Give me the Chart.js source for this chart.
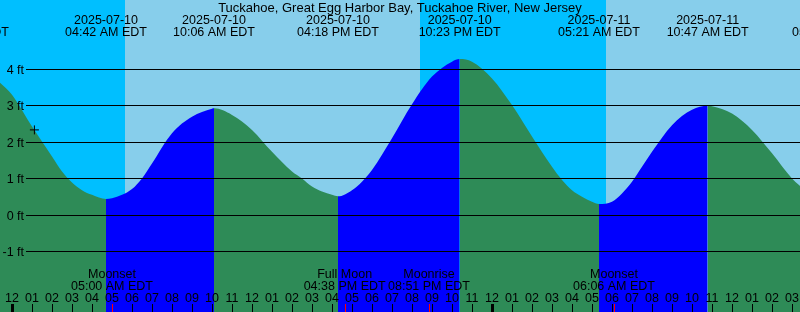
<!DOCTYPE html>
<html>
<head>
<meta charset="utf-8">
<title>Tuckahoe tides</title>
<script src="https://cdn.jsdelivr.net/npm/chart.js@4.4.1/dist/chart.umd.min.js"></script>
<style>
  html, body { margin: 0; padding: 0; background: #fff; overflow: hidden; }
  #wrap { width: 800px; height: 312px; position: relative; }
</style>
</head>
<body>
<div id="wrap"><canvas id="tide"></canvas></div>
<script>
const stationName = 'Tuckahoe, Great Egg Harbor Bay, Tuckahoe River, New Jersey';

// hours counted from 2025-07-10 00:00 EDT, heights in feet
const tideHours = [-0.65, 0, 1, 2, 2.5, 3, 3.5, 4, 4.7, 5, 5.5, 6, 6.5, 7, 8, 9, 10, 10.1, 11, 12, 13, 14, 14.5,
  15, 15.5, 16, 16.3, 17, 17.5, 18, 19, 20, 21, 22, 22.383, 23, 24, 25, 26, 27, 27.5, 28, 28.5, 29, 29.35,
  30, 30.5, 31, 31.5, 32, 33, 34, 34.783, 35, 36, 37, 38, 39, 39.35, 39.6];
const tideFeet = [3.66, 3.30, 2.43, 1.61, 1.20, 0.90, 0.69, 0.56, 0.45, 0.47, 0.56, 0.72, 1.01, 1.42, 2.25, 2.70, 2.92, 2.93, 2.75, 2.34, 1.74, 1.20, 1.01,
  0.79, 0.65, 0.56, 0.52, 0.69, 0.92, 1.24, 2.11, 3.04, 3.80, 4.21, 4.28, 4.21, 3.75, 3.02, 2.16, 1.33, 0.97, 0.69, 0.51, 0.37, 0.31,
  0.37, 0.60, 0.92, 1.33, 1.74, 2.47, 2.89, 3.0, 2.99, 2.79, 2.34, 1.70, 1.01, 0.83, 0.70];

const extremeHours = [-2.2, 4.7, 10.1, 16.3, 22.383, 29.35, 34.783, 41.05];
const extremeDates = ['2025-07-09', '2025-07-10', '2025-07-10', '2025-07-10', '2025-07-10', '2025-07-11', '2025-07-11', '2025-07-11'];
const extremeTimes = ['09:48 PM EDT', '04:42 AM EDT', '10:06 AM EDT', '04:18 PM EDT', '10:23 PM EDT', '05:21 AM EDT', '10:47 AM EDT', '05:03 PM EDT'];

const moonHours = [5.0, 16.633, 20.85, 30.1];
const moonNames = ['Moonset', 'Full Moon', 'Moonrise', 'Moonset'];
const moonTimes = ['05:00 AM EDT', '04:38 PM EDT', '08:51 PM EDT', '06:06 AM EDT'];

const dayStart = [5.65, 29.7];
const dayEnd = [20.4, 44];

const footTicks = [-1, 0, 1, 2, 3, 4];
const hourLabels = ['12', '01', '02', '03', '04', '05', '06', '07', '08', '09', '10', '11',
  '12', '01', '02', '03', '04', '05', '06', '07', '08', '09', '10', '11',
  '12', '01', '02', '03', '04', '05', '06', '07', '08', '09', '10', '11',
  '12', '01', '02', '03'];

const markHours = [1.12];
const markFeet = [2.34];

const FONT = '12.5px "Liberation Sans", Arial, sans-serif';
const TITLE_FONT = '13px "Liberation Sans", Arial, sans-serif';
const NIGHT = '#00BFFF';
const DAY = '#87CEEB';
const EBB = '#2E8B57';
const FLOOD = '#0000FF';

const tideDecor = {
  id: 'tideDecor',
  beforeDatasetsDraw(chart) {
    const { ctx, chartArea: a, scales: { x } } = chart;
    ctx.save();
    ctx.fillStyle = NIGHT;
    ctx.fillRect(a.left, a.top, a.width, a.height);
    ctx.fillStyle = DAY;
    dayStart.forEach((s, i) => {
      const x0 = Math.max(Math.round(x.getPixelForValue(s)), a.left);
      const x1 = Math.min(Math.round(x.getPixelForValue(dayEnd[i])), a.right);
      ctx.fillRect(x0, a.top, x1 - x0, a.height);
    });
    ctx.restore();
  },
  afterDatasetsDraw(chart) {
    const { ctx, chartArea: a, scales: { x, y } } = chart;
    ctx.save();
    ctx.fillStyle = '#000';
    ctx.strokeStyle = '#000';
    ctx.lineWidth = 1;
    ctx.textBaseline = 'alphabetic';

    // horizontal foot lines + labels
    ctx.font = FONT;
    footTicks.forEach(v => {
      const py = Math.floor(y.getPixelForValue(v)) + 0.5;
      ctx.beginPath();
      ctx.moveTo(26, py);
      ctx.lineTo(a.right, py);
      ctx.stroke();
      ctx.textAlign = 'right';
      ctx.fillText(v + ' ft', 24, py + 4.5);
    });

    ctx.textAlign = 'center';
    ctx.font = TITLE_FONT;
    ctx.fillText(stationName, 400, 12);

    ctx.font = FONT;
    extremeHours.forEach((h, i) => {
      const px = x.getPixelForValue(h);
      ctx.fillText(extremeDates[i], px, 24);
      ctx.fillText(extremeTimes[i], px, 36);
    });

    moonHours.forEach((h, i) => {
      const px = x.getPixelForValue(h);
      ctx.fillText(moonNames[i], px, 278);
      ctx.fillText(moonTimes[i], px, 290);
    });

    // hour ticks along the bottom
    hourLabels.forEach((lab, h) => {
      const px = Math.round(x.getPixelForValue(h));
      ctx.fillText(lab, px, 302);
      if (h % 24 === 0) {
        ctx.fillRect(px - 1, 304, 3, 8);
      } else {
        ctx.fillRect(px, 304, 1, 8);
      }
    });

    ctx.fillStyle = '#FF0000';
    moonHours.forEach(h => {
      const px = Math.round(x.getPixelForValue(h));
      ctx.fillRect(px, 304, 1, 8);
    });
    ctx.restore();
  }
};

document.addEventListener('DOMContentLoaded', () => {
  const canvas = document.getElementById('tide');
  canvas.width = 800;
  canvas.height = 312;

  new Chart(canvas.getContext('2d'), {
    type: 'line',
    data: {
      datasets: [
        {
          order: 1,
          data: tideHours.map((h, i) => ({ x: h, y: tideFeet[i] })),
          borderColor: 'rgba(0,0,0,0)',
          borderWidth: 0,
          pointRadius: 0,
          cubicInterpolationMode: 'monotone',
          fill: 'start',
          backgroundColor: EBB,
          segment: {
            backgroundColor: c => (c.p1.parsed.y > c.p0.parsed.y ? FLOOD : EBB)
          }
        },
        {
          order: 0,
          type: 'scatter',
          data: markHours.map((h, i) => ({ x: h, y: markFeet[i] })),
          pointStyle: 'cross',
          pointRadius: 4.5,
          borderColor: '#000',
          borderWidth: 1,
          backgroundColor: '#000'
        }
      ]
    },
    options: {
      responsive: false,
      animation: false,
      layout: { padding: 0, autoPadding: false },
      plugins: { legend: { display: false }, tooltip: { enabled: false } },
      scales: {
        x: { type: 'linear', min: -0.6, max: 39.4, display: false },
        y: { min: -2.649, max: 5.899, display: false }
      }
    },
    plugins: [tideDecor]
  });
});
</script>
</body>
</html>
